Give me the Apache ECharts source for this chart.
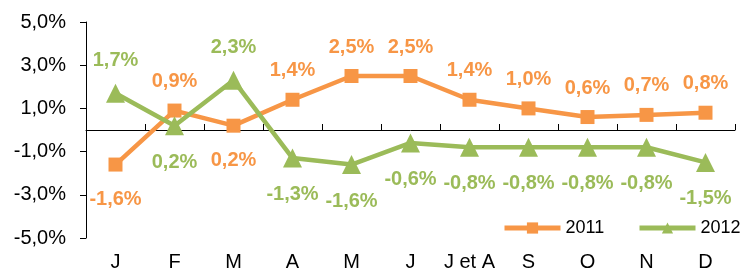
<!DOCTYPE html>
<html><head><meta charset="utf-8">
<script src="https://cdn.jsdelivr.net/npm/echarts@6/dist/echarts.min.js"></script>
<style>html,body{margin:0;padding:0;background:#fff}#c{width:741px;height:273px}</style>
</head><body><div id="c"></div>
<script>
var categories = ['J','F','M','A','M','J','J et A','S','O','N','D'];
var values2011 = [-1.6, 0.9, 0.2, 1.4, 2.5, 2.5, 1.4, 1.0, 0.6, 0.7, 0.8];
var values2012 = [1.7, 0.2, 2.3, -1.3, -1.6, -0.6, -0.8, -0.8, -0.8, -0.8, -1.5];
var seriesNames = ['2011', '2012'];
var below2011 = [0, 2];
var above2012 = [0, 2];

function fmt(v){ return v.toFixed(1).replace('.', ',') + '%'; }
var FONT = '"Liberation Sans", Arial, sans-serif';
var ORANGE = '#F79646', GREEN = '#9BBB59';

function buildData(vals, isBelow, dUp, dDown){
  return vals.map(function(v,i){
    var b = isBelow(i);
    return {value: v, label: {position: b ? 'bottom' : 'top', distance: b ? dDown : dUp}};
  });
}
function legendAt(left, name){
  return {
    left: left, top: 219, padding: 0, itemWidth: 56, itemHeight: 14, itemGap: 4,
    lineStyle: {width: 5},
    textStyle: {fontFamily: FONT, fontSize: 18, color: '#000'},
    data: [name]
  };
}

var chart = echarts.init(document.getElementById('c'));
chart.setOption({
  animation: false,
  grid: {left: 86, right: 6, top: 22, bottom: 35},
  legend: [legendAt(502, seriesNames[0]), legendAt(637, seriesNames[1])],
  xAxis: [{
    type: 'category', data: categories, position: 'bottom',
    axisLine: {show: false, onZero: false}, axisTick: {show: false},
    axisLabel: {interval: 0, fontFamily: FONT, fontSize: 20, color: '#000', margin: 14}
  },{
    type: 'category', data: categories,
    axisLine: {show: true, onZero: true, lineStyle: {color: '#000', width: 1}},
    axisTick: {show: true, length: 6, interval: 0, lineStyle: {color: '#000'}},
    axisLabel: {show: false}
  }],
  yAxis: {
    type: 'value', min: -5, max: 5, interval: 2,
    axisLine: {show: true, lineStyle: {color: '#000'}},
    axisTick: {show: true, length: 6, lineStyle: {color: '#000'}},
    splitLine: {show: false},
    axisLabel: {fontFamily: FONT, fontSize: 20, color: '#000', margin: 20, formatter: fmt}
  },
  series: [{
    name: seriesNames[0], type: 'line', xAxisIndex: 0,
    data: buildData(values2011, function(i){ return below2011.indexOf(i) >= 0; }, 12, 18),
    symbol: 'rect', symbolSize: 14,
    lineStyle: {color: ORANGE, width: 4.5}, itemStyle: {color: ORANGE},
    label: {show: true, fontFamily: FONT, fontSize: 20, fontWeight: 'bold', color: ORANGE,
      formatter: function(p){ return fmt(p.value); }}
  },{
    name: seriesNames[1], type: 'line', xAxisIndex: 0,
    data: buildData(values2012, function(i){ return above2012.indexOf(i) < 0; }, 13, 17),
    symbol: 'triangle', symbolSize: 19,
    lineStyle: {color: GREEN, width: 4.5}, itemStyle: {color: GREEN},
    label: {show: true, fontFamily: FONT, fontSize: 20, fontWeight: 'bold', color: GREEN,
      formatter: function(p){ return fmt(p.value); }}
  }]
});
</script></body></html>
